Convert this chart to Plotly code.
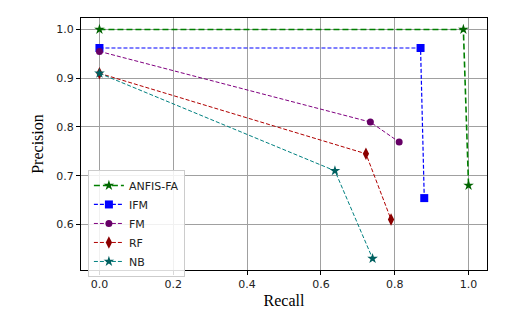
import plotly.graph_objects as go

series_names = ["ANFIS-FA", "IFM", "FM", "RF", "NB"]
recall = {
    "ANFIS-FA": [0.0, 0.986, 1.0],
    "IFM": [0.0, 0.870, 0.880],
    "FM": [0.0, 0.734, 0.812],
    "RF": [0.0, 0.722, 0.790],
    "NB": [0.0, 0.638, 0.740],
}
precision = {
    "ANFIS-FA": [1.0, 1.0, 0.68],
    "IFM": [0.962, 0.962, 0.654],
    "FM": [0.955, 0.810, 0.769],
    "RF": [0.910, 0.745, 0.610],
    "NB": [0.910, 0.710, 0.530],
}
x_ticks = [0.0, 0.2, 0.4, 0.6, 0.8, 1.0]
y_ticks = [0.6, 0.7, 0.8, 0.9, 1.0]

styles = {
    "ANFIS-FA": dict(line="#008000", marker="#006400", symbol="star", size=8, width=1.6, dash="6px,3px"),
    "IFM": dict(line="#0000ff", marker="#0000ff", symbol="square", size=8, width=1.2, dash="4px,2px"),
    "FM": dict(line="#800080", marker="#660066", symbol="circle", size=7, width=1.0, dash="4px,2px"),
    "RF": dict(line="#b00000", marker="#8b0000", symbol="diamond-tall", size=9, width=1.0, dash="4px,2px"),
    "NB": dict(line="#008080", marker="#006060", symbol="star", size=8, width=1.0, dash="4px,2px"),
}

fig = go.Figure()
for name in series_names:
    s = styles[name]
    fig.add_trace(go.Scatter(
        x=recall[name], y=precision[name], name=name, mode="lines+markers",
        line=dict(color=s["line"], width=s["width"], dash=s["dash"]),
        marker=dict(color=s["marker"], symbol=s["symbol"], size=s["size"]),
    ))

axis_common = dict(
    showline=True, linecolor="black", linewidth=1.2, mirror=True,
    showgrid=True, gridcolor="#a0a0a0", gridwidth=1,
    ticks="outside", ticklen=4, tickcolor="black",
    tickfont=dict(family="DejaVu Sans", size=11, color="#222"),
    zeroline=False,
)

fig.update_layout(
    width=520, height=315,
    margin=dict(l=73, r=41, t=10, b=53),
    paper_bgcolor="white", plot_bgcolor="white",
    xaxis=dict(range=[-0.05, 1.05], tickvals=x_ticks, tickformat=".1f",
               title=dict(text="Recall", font=dict(family="Liberation Serif", size=16, color="black"), standoff=4),
               **axis_common),
    yaxis=dict(range=[0.5065, 1.0235], tickvals=y_ticks, tickformat=".1f",
               title=dict(text="Precision", font=dict(family="Liberation Serif", size=16, color="black"), standoff=8),
               **axis_common),
    legend=dict(x=0.017, y=0.397, xanchor="left", yanchor="top",
                bgcolor="rgba(255,255,255,0.85)", bordercolor="#cccccc", borderwidth=1,
                font=dict(family="DejaVu Sans", size=11, color="#222"),
                tracegroupgap=0, itemwidth=30),
    showlegend=True,
)

fig.write_html("out.html")
